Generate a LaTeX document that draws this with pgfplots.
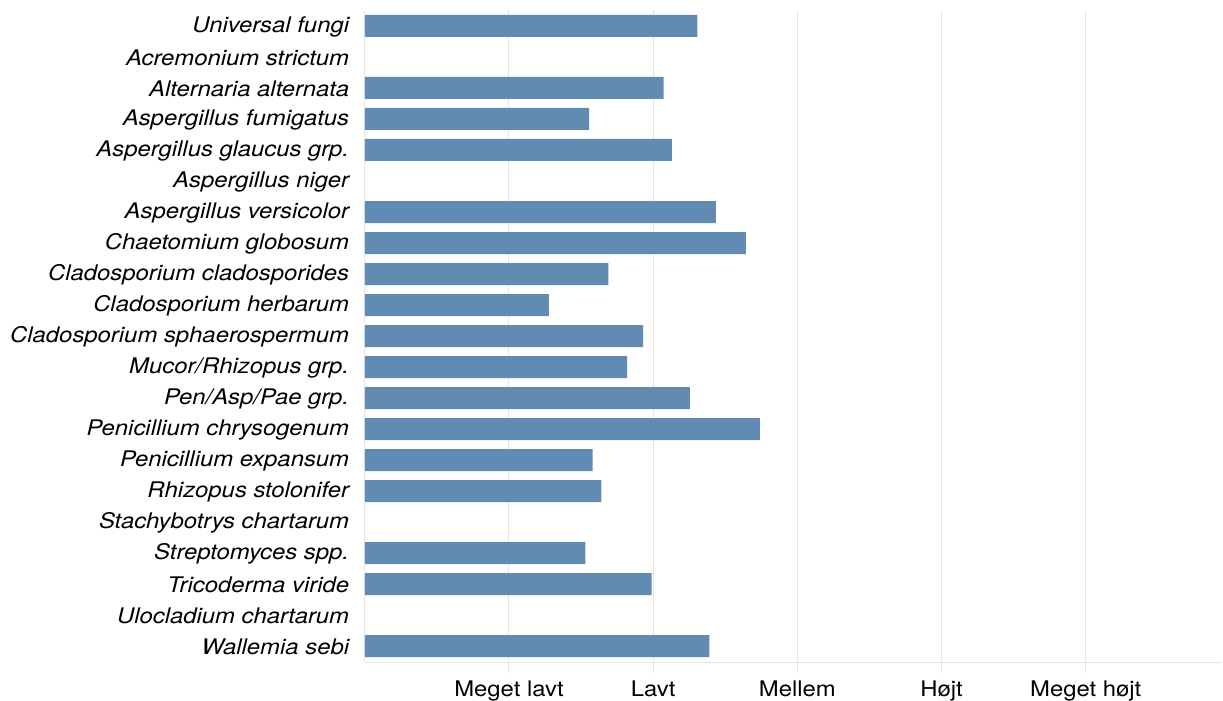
\documentclass[border=0pt]{standalone}
\usepackage{pgfplots}
\pgfplotsset{compat=1.18}
\usepackage{fontspec}
\setmainfont{TeX Gyre Heros}[FakeStretch=1.11]
\definecolor{barblue}{RGB}{97,139,179}
\definecolor{gridgray}{RGB}{229,229,229}
\pgfplotstableread{
y x
0 2.306
2 2.073
3 1.555
4 2.13
6 2.435
7 2.643
8 1.69
9 1.277
10 1.93
11 1.82
12 2.255
13 2.74
14 1.58
15 1.64
17 1.53
18 1.99
20 2.389
}\fungi
\begin{document}
\begin{tikzpicture}
\begin{axis}[
  at={(0,0)}, anchor=south west,
  scale only axis, width=857.2pt, height=652pt,
  xbar, bar width=22pt,
  xmin=0, xmax=5.945,
  ymin=-0.516, ymax=20.516, y dir=reverse,
  axis x line*=bottom, axis y line*=left,
  axis line style={draw=gridgray, line width=1pt},
  xtick={1,2,3,4,5},
  xticklabels={Meget lavt,Lavt,Mellem,Højt,Meget højt},
  xmajorgrids, major grid style={draw=gridgray, line width=1pt},
  xtick style={draw=gridgray, line width=1pt},
  tick align=outside, major tick length=11pt,
  ytick={0,...,20},
  ytick style={draw=none},
  yticklabels={Universal fungi,Acremonium strictum,Alternaria alternata,Aspergillus fumigatus,Aspergillus glaucus grp.,Aspergillus niger,Aspergillus versicolor,Chaetomium globosum,Cladosporium cladosporides,Cladosporium herbarum,Cladosporium sphaerospermum,Mucor/Rhizopus grp.,Pen/Asp/Pae grp.,Penicillium chrysogenum,Penicillium expansum,Rhizopus stolonifer,Stachybotrys chartarum,Streptomyces spp.,Tricoderma viride,Ulocladium chartarum,Wallemia sebi},
  yticklabel style={font=\fontsize{21.5}{25}\selectfont\itshape, anchor=east, inner sep=0pt, xshift=-4.5pt, yshift=-1pt},
  xticklabel style={font=\fontsize{21.5}{25}\selectfont, anchor=north, inner sep=0pt, yshift=-8pt},
]
\addplot[fill=barblue, draw=none] table[x=x,y=y] {\fungi};
\end{axis}
\pgfresetboundingbox
\path (-364.8pt,-39pt) rectangle (858.2pt,662pt);
\end{tikzpicture}
\end{document}
